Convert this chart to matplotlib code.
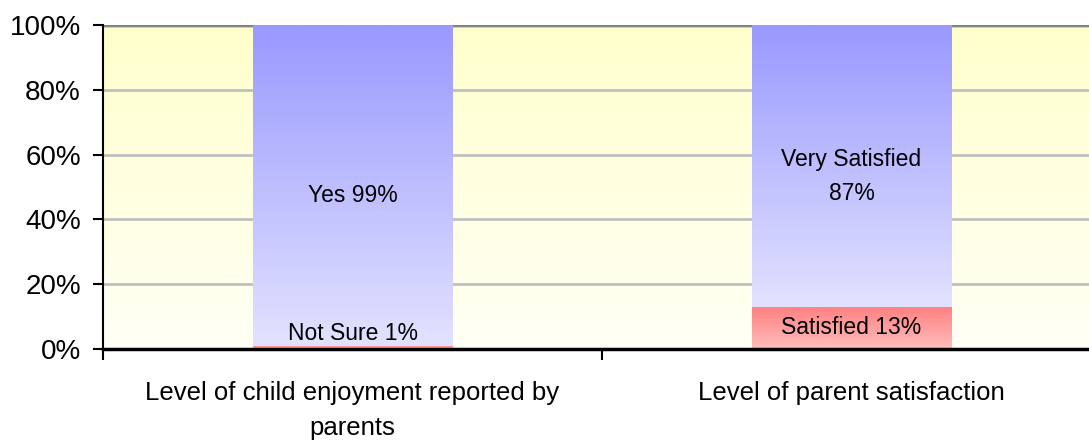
import matplotlib
matplotlib.use("Agg")
import matplotlib.pyplot as plt
import numpy as np
from matplotlib.colors import LinearSegmentedColormap

plt.rcParams['font.family'] = ['Liberation Sans', 'DejaVu Sans']

categories = ["Level of child enjoyment reported by\nparents", "Level of parent satisfaction"]
bottom_labels = ["Not Sure 1%", "Satisfied 13%"]
bottom_values = [1, 13]
top_labels = ["Yes 99%", "Very Satisfied\n87%"]
top_values = [99, 87]
yticks = [0, 20, 40, 60, 80, 100]
ytick_labels = ["0%", "20%", "40%", "60%", "80%", "100%"]

W, H = 1089, 446
fig = plt.figure(figsize=(W / 100, H / 100), dpi=100)
ax = fig.add_axes([103 / W, (H - 349) / H, (1101 - 103) / W, (349 - 25) / H])
ax.set_xlim(-0.5, 1.5)
ax.set_ylim(0, 100)

# background gradient
bg = LinearSegmentedColormap.from_list("bg", ["#FFFFF6", "#FFFFCC"])
grad = np.linspace(0, 1, 256).reshape(-1, 1)
ax.imshow(grad, cmap=bg, origin="lower", aspect="auto",
          extent=(-0.5, 1.5, 0, 100), zorder=0)

# gridlines
for y in yticks[1:-1]:
    ax.axhline(y, color="#C0C0C0", lw=2, zorder=1)
ax.axhline(100, color="#C8C8C8", lw=3.5, zorder=1)
ax.axhline(100, color="#808080", lw=2, zorder=1)

blue = LinearSegmentedColormap.from_list("blue", ["#E2E2FF", "#9999FF"])
red = LinearSegmentedColormap.from_list("red", ["#FFBDBD", "#FF8080"])
bw = 0.4
x = np.arange(len(categories))
for i in range(len(categories)):
    b = bottom_values[i]
    t = top_values[i]
    ax.imshow(grad, cmap=red, origin="lower", aspect="auto",
              extent=(x[i] - bw / 2, x[i] + bw / 2, 0, b), zorder=2)
    ax.imshow(grad, cmap=blue, origin="lower", aspect="auto",
              extent=(x[i] - bw / 2, x[i] + bw / 2, b, b + t), zorder=2)
    ax.text(x[i], max(b / 2, 4.8), bottom_labels[i], ha="center", va="center",
            fontsize=16.5, zorder=3)
    ax.text(x[i], b + t / 2 - 3.2, top_labels[i], ha="center", va="center",
            fontsize=16.5, linespacing=1.6, zorder=3)
ax.set_xlim(-0.5, 1.5)
ax.set_ylim(0, 100)

for s in ["top", "right"]:
    ax.spines[s].set_visible(False)
ax.spines["left"].set_linewidth(1.5)
ax.spines["bottom"].set_linewidth(2.5)
ax.spines["left"].set_zorder(4)
ax.spines["bottom"].set_zorder(4)

ax.set_yticks(yticks)
ax.set_yticklabels(ytick_labels, fontsize=20)
ax.tick_params(axis="y", length=7, width=1.5, pad=9, direction="out")
ax.set_xticks(x)
ax.set_xticklabels(categories, fontsize=18.5, linespacing=1.6)
ax.tick_params(axis="x", which="major", length=0, pad=23)
ax.set_xticks([-0.5, 0.5, 1.5], minor=True)
ax.tick_params(axis="x", which="minor", length=8, width=1.5, direction="out")

fig.savefig("out.png", dpi=100)
